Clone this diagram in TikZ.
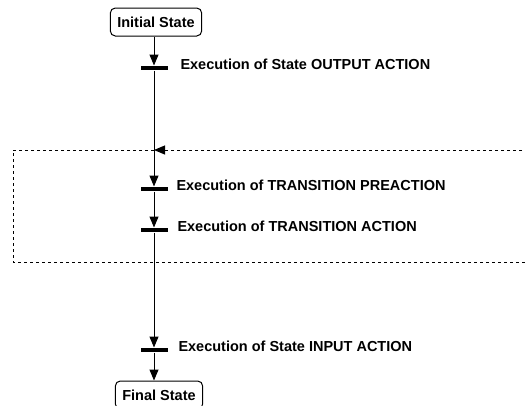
\documentclass[tikz,border=0pt]{standalone}
\usepackage{fontspec}
\setmainfont{Liberation Sans}
\usetikzlibrary{arrows.meta,positioning}

\tikzset{
  statebox/.style={draw,rounded corners=5pt,font=\bfseries\fontsize{14.5}{16}\selectfont,inner xsep=7pt,inner ysep=3pt,minimum height=28pt},
  execbar/.style={fill,inner sep=0pt,minimum width=27pt,minimum height=4pt},
  execlabel/.style={font=\bfseries\fontsize{14.5}{16}\selectfont,anchor=base west,inner sep=0pt},
  flow/.style={-{Triangle[length=11pt,width=9pt]}},
}

\begin{document}
\begin{tikzpicture}[x=1pt,y=-1pt,line width=1pt]
\useasboundingbox (0,0) rectangle (525,405);
% states
\node[statebox] (init) at (156,22) {Initial State};
\node[statebox] (final) at (159,395) {Final State};
% execution bars
\node[execbar] (outbar) at (154,68) {};
\node[execbar] (prebar) at (154,189) {};
\node[execbar] (actbar) at (154,230) {};
\node[execbar] (inbar) at (154,350) {};
\node[execlabel] at (180,69) {Execution of State OUTPUT ACTION};
\node[execlabel] at (176,190) {Execution of TRANSITION PREACTION};
\node[execlabel] at (177,231) {Execution of TRANSITION ACTION};
\node[execlabel] at (178,351) {Execution of State INPUT ACTION};
% transition loop
\coordinate (loopin) at (154,150);
\coordinate (loopright) at (540,150);
\draw[dash pattern=on 3pt off 3pt] (loopin) -- (13,150) -- (13,262) -- (540,262);
\draw[dash pattern=on 3pt off 3pt,-{Triangle[length=11pt,width=9pt]}] (loopright) -- (loopin);
% main flow
\draw[flow] (outbar |- init.south) -- (outbar);
\draw[flow] (outbar) -- (prebar);
\draw[flow] (prebar) -- (actbar);
\draw[flow] (actbar) -- (inbar);
\draw[flow] (inbar) -- (inbar |- final.north);
\end{tikzpicture}
\end{document}
